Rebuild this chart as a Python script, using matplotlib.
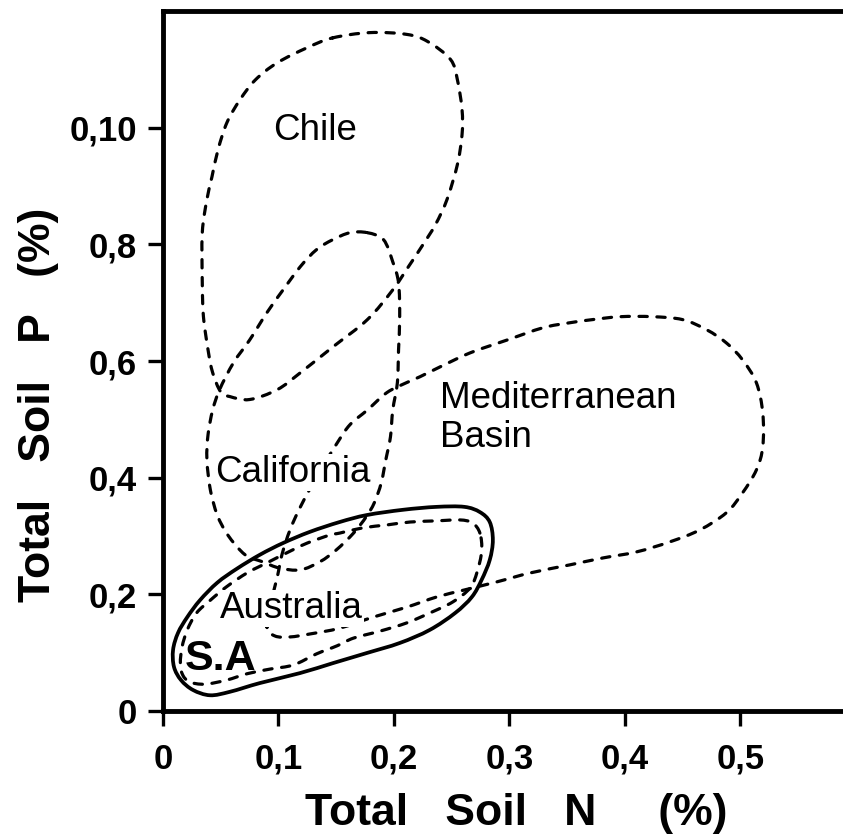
import numpy as np
import matplotlib
matplotlib.use("Agg")
import matplotlib.pyplot as plt
from matplotlib.path import Path
from matplotlib.patches import PathPatch

plt.rcParams["font.family"] = ["Liberation Sans", "DejaVu Sans"]

# region outlines: total soil N (%) vs total soil P (%)
chile_n = [0.147, 0.179, 0.211, 0.229, 0.249, 0.255, 0.259, 0.259, 0.255, 0.246, 0.236,
           0.225, 0.212, 0.199, 0.177, 0.147, 0.119, 0.099, 0.075, 0.058, 0.050, 0.043,
           0.039, 0.035, 0.034, 0.034, 0.038, 0.0424, 0.0476, 0.0554, 0.0667, 0.080,
           0.0987, 0.1247]
chile_p = [1.154, 1.163, 1.160, 1.148, 1.117, 1.082, 1.031, 0.988, 0.937, 0.877, 0.834,
           0.799, 0.760, 0.722, 0.671, 0.624, 0.580, 0.551, 0.534, 0.539, 0.547, 0.580,
           0.619, 0.676, 0.734, 0.820, 0.877, 0.916, 0.962, 1.009, 1.048, 1.082,
           1.111, 1.137]

california_n = [0.177, 0.191, 0.199, 0.204, 0.205, 0.204, 0.203, 0.199, 0.197, 0.193, 0.189,
                0.183, 0.176, 0.165, 0.150, 0.136, 0.119, 0.101, 0.086, 0.071, 0.056, 0.047,
                0.041, 0.038, 0.039, 0.043, 0.049, 0.061, 0.075, 0.090, 0.104, 0.119, 0.133,
                0.147, 0.162]
california_p = [0.820, 0.808, 0.770, 0.734, 0.676, 0.619, 0.563, 0.516, 0.470, 0.431, 0.391,
                0.357, 0.333, 0.305, 0.276, 0.256, 0.242, 0.245, 0.256, 0.268, 0.302, 0.336,
                0.379, 0.431, 0.474, 0.516, 0.551, 0.597, 0.636, 0.683, 0.722, 0.762, 0.791,
                0.808, 0.820]

med_n = [0.090, 0.094, 0.099, 0.103, 0.110, 0.119, 0.134, 0.151, 0.162, 0.177, 0.194, 0.211,
         0.2225, 0.240, 0.266, 0.298, 0.329, 0.352, 0.372, 0.396, 0.424, 0.450, 0.471, 0.488,
         0.502, 0.514, 0.5195, 0.5195, 0.514, 0.502, 0.488, 0.465, 0.439, 0.410, 0.381, 0.352,
         0.318, 0.289, 0.261, 0.237, 0.211, 0.182, 0.153, 0.127, 0.110, 0.097]
med_p = [0.144, 0.190, 0.230, 0.268, 0.3105, 0.350, 0.405, 0.460, 0.491, 0.516, 0.546, 0.563,
         0.573, 0.590, 0.614, 0.636, 0.657, 0.6655, 0.671, 0.676, 0.676, 0.671, 0.6535, 0.631,
         0.602, 0.5626, 0.511, 0.453, 0.4134, 0.374, 0.340, 0.3105, 0.290, 0.2727, 0.2624, 0.2504,
         0.2367, 0.2213, 0.2075, 0.1955, 0.178, 0.161, 0.142, 0.132, 0.127, 0.1286]

australia_n = [0.2745, 0.268, 0.257, 0.237, 0.214, 0.194, 0.173, 0.153, 0.145, 0.125, 0.107,
               0.090, 0.073, 0.055, 0.041, 0.029, 0.021, 0.0165, 0.015, 0.017, 0.023, 0.036,
               0.055, 0.073, 0.093, 0.113, 0.133, 0.151, 0.165, 0.188, 0.211, 0.231, 0.251,
               0.266, 0.272, 0.276]
australia_p = [0.305, 0.3225, 0.3276, 0.326, 0.324, 0.319, 0.314, 0.305, 0.302, 0.288, 0.271,
               0.254, 0.237, 0.213, 0.190, 0.168, 0.139, 0.110, 0.082, 0.062, 0.050, 0.046,
               0.053, 0.064, 0.072, 0.079, 0.098, 0.112, 0.125, 0.137, 0.151, 0.168, 0.187,
               0.211, 0.238, 0.274]

sa_n = [0.2857, 0.283, 0.2745, 0.261, 0.237, 0.208, 0.1766, 0.153, 0.127, 0.104, 0.084, 0.064,
        0.047, 0.032, 0.021, 0.013, 0.0087, 0.0095, 0.0156, 0.026, 0.0407, 0.058, 0.084, 0.1186,
        0.147, 0.1766, 0.205, 0.231, 0.253, 0.2675, 0.276, 0.283]
sa_p = [0.293, 0.324, 0.341, 0.350, 0.350, 0.345, 0.336, 0.324, 0.307, 0.288, 0.268, 0.244,
        0.220, 0.190, 0.161, 0.134, 0.105, 0.0755, 0.053, 0.036, 0.027, 0.033, 0.048, 0.065,
        0.082, 0.0995, 0.1166, 0.139, 0.168, 0.1955, 0.225, 0.259]

x_ticks = [0, 0.1, 0.2, 0.3, 0.4, 0.5]
x_ticklabels = ["0", "0,1", "0,2", "0,3", "0,4", "0,5"]
y_ticks = [0, 0.2, 0.4, 0.6, 0.8, 1.0]
y_ticklabels = ["0", "0,2", "0,4", "0,6", "0,8", "0,10"]


def closed_curve(xs, ys):
    # smooth closed outline through the read points (Catmull-Rom as cubic Beziers)
    pts = np.column_stack([xs, ys])
    n = len(pts)
    verts = [pts[0]]
    codes = [Path.MOVETO]
    for i in range(n):
        p0, p1, p2, p3 = pts[i - 1], pts[i], pts[(i + 1) % n], pts[(i + 2) % n]
        verts += [p1 + (p2 - p0) / 6, p2 - (p3 - p1) / 6, p2]
        codes += [Path.CURVE4] * 3
    return Path(verts, codes)


fig = plt.figure(figsize=(8.43, 8.36), dpi=100, facecolor="white")
ax = fig.add_axes([0.1934, 0.1495, 0.8066, 0.8373])
ax.set_xlim(0, 0.589)
ax.set_ylim(0, 1.2)

dashed = dict(fill=False, edgecolor="black", linewidth=2.3,
              linestyle=(0, (2.6, 3.0)), capstyle="round", zorder=2)
for xs, ys in [(chile_n, chile_p), (california_n, california_p),
               (med_n, med_p), (australia_n, australia_p)]:
    ax.add_patch(PathPatch(closed_curve(xs, ys), **dashed))
ax.add_patch(PathPatch(closed_curve(sa_n, sa_p), fill=False, edgecolor="black",
                       linewidth=2.7, linestyle="-", zorder=3))

label_kw = dict(fontsize=26.5, color="black", zorder=4)
white_bg = dict(facecolor="white", edgecolor="none", pad=0.5)
ax.text(0.0952, 0.979, "Chile", ha="left", va="baseline", **label_kw)
ax.text(0.045, 0.393, "California", ha="left", va="baseline", bbox=white_bg, **label_kw)
ax.text(0.240, 0.520, "Mediterranean", ha="left", va="baseline", **label_kw)
ax.text(0.240, 0.453, "Basin", ha="left", va="baseline", **label_kw)
ax.text(0.0494, 0.1595, "Australia", ha="left", va="baseline", bbox=white_bg, **label_kw)
ax.text(0.019, 0.070, "S.A", ha="left", va="baseline", fontsize=31,
        fontweight="bold", zorder=5)

ax.spines["right"].set_visible(False)
for side in ["left", "bottom", "top"]:
    ax.spines[side].set_linewidth(3.5)

ax.set_xticks(x_ticks)
ax.set_xticklabels(x_ticklabels)
ax.set_yticks(y_ticks)
ax.set_yticklabels(y_ticklabels)
ax.tick_params(axis="both", direction="out", length=11, width=2.4,
               labelsize=25)
ax.tick_params(axis="x", pad=12)
ax.tick_params(axis="y", pad=8)
for lab in ax.get_xticklabels() + ax.get_yticklabels():
    lab.set_fontweight("bold")

ax.set_xlabel("Total   Soil   N     (%)", fontsize=32, fontweight="bold")
ax.xaxis.set_label_coords(0.519, -0.117)
ax.set_ylabel("Total   Soil   P   (%)", fontsize=32, fontweight="bold")
ax.yaxis.set_label_coords(-0.153, 0.437)

fig.savefig("out.png", dpi=100, facecolor="white")
